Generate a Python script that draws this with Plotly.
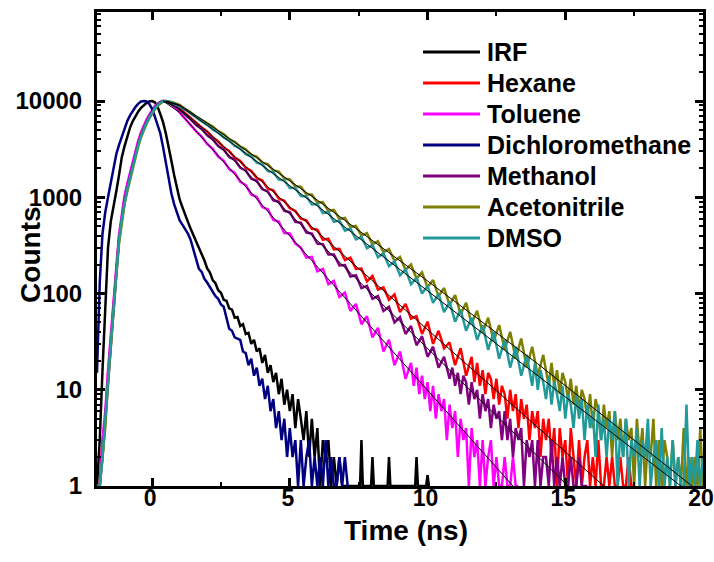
import plotly.graph_objects as go

def grid(start, step, n):
    return [round(start + step * i, 3) for i in range(n)]

# ---------------- data (counts) ----------------
# IRF: -2.0..1.0 ns step 0.1, then 1.1.. step 0.1, then isolated spikes
irf_rise = [1, 3, 16, 80, 300, 560, 850, 1150, 1700, 2600, 3400, 4300, 5300, 6200, 7000,
            7800, 8500, 9100, 9600, 9900, 10000, 9700, 8700, 7300, 6000, 4600, 3400, 2400,
            1700, 1250, 950]
irf_tail = [790, 650, 555, 470, 405, 340, 300, 250, 220, 182, 165, 138, 128, 108, 102, 86, 84,
            70, 68, 56, 57, 46, 48, 38, 39, 30, 33, 25, 27, 19, 23, 15, 18, 12, 15, 9, 13, 7,
            10, 6, 9, 4, 8, 5, 3, 6, 2, 5, 2, 4, 1, 3, 2, 3, 1, 2, 1, 2, 1, 1]
irf_spike_t = [7.5, 7.55, 7.6, 7.65, 7.95, 8.0, 8.05, 8.55, 8.6, 8.65, 9.55, 9.6, 9.65,
               9.95, 10.0, 10.05]
irf_spike_y = [1, 1, 3, 1, 1, 2, 1, 1, 2, 1, 1, 2, 1, 1, 1.3, 1]

# Dichloromethane
dcm_rise = [15, 130, 420, 700, 1000, 1450, 2100, 2800, 3500, 4300, 5300, 6200, 7100, 7900,
            8700, 9400, 9900, 10000, 9900, 9300, 8300, 6900, 5700, 4600, 3300, 2300, 1500,
            1100, 850, 680, 575]
dcm_tail = [520, 470, 420, 360, 290, 228, 180, 168, 142, 130, 116, 106, 94, 88, 77, 73, 54,
            43, 41, 35, 34, 33, 25, 24, 18, 21, 14, 17, 11, 13, 8, 11, 6, 8, 4, 6, 3, 5, 2, 4,
            2, 3, 1, 3, 1, 2, 3, 1, 2, 1, 2, 1, 3, 1, 2, 1, 1, 2, 1, 2, 1]

# Hexane
hex_rise = [1, 1, 3, 5, 14, 30, 70, 170, 380, 640, 970, 1300, 1700, 2250, 3000, 3750, 4600,
            5450, 6250, 7050, 7850, 8650, 9300, 9750, 10000, 9950, 9800, 9500, 9150, 8800, 8400]
hex_mid = [7480, 6640, 6010, 5310, 4830, 4210, 3810, 3300, 3020, 2590, 2380, 2030, 1880, 1590,
           1490, 1230, 1180, 970, 920, 770, 720, 600, 575, 470, 462, 362, 372, 288, 292, 222,
           236, 180, 182, 134, 152, 110, 116, 86, 98, 64, 78, 55, 58, 38, 51, 30, 41, 27, 31,
           18, 27, 14, 22]
hex_tail = [12, 19, 11, 16, 9, 15, 13, 8, 13, 7, 11, 9, 5, 10, 6, 9, 4, 8, 5, 7, 3, 6, 4, 6,
            2, 5, 3, 5, 2, 4, 1, 4, 2, 3, 1, 4, 2, 1, 3, 1, 2, 3, 1, 2, 1, 3, 1, 1, 2, 1, 2, 1,
            1, 2, 1, 1, 2, 1, 1]

# Toluene
tol_rise = [1, 1, 3, 6, 16, 34, 78, 185, 410, 690, 1040, 1390, 1800, 2380, 3150, 3900, 4750,
            5600, 6400, 7200, 8000, 8800, 9400, 9800, 10000, 9900, 9650, 9250, 8750, 8200, 7600]
tol_mid = [6520, 5700, 4830, 4260, 3580, 3180, 2650, 2390, 1960, 1790, 1450, 1340, 1070, 1010,
           790, 750, 580, 560, 425, 420, 330, 300, 236, 240, 170, 180, 125, 135, 92, 102, 66,
           78, 48, 58, 35, 44, 25, 33, 18, 25, 13, 19]
tol_tail = [11, 17, 9, 14, 8, 12, 6, 11, 5, 9, 6, 8, 3, 7, 4, 6, 2, 5, 3, 4, 1, 4, 2, 3, 1, 3,
            1, 2, 3, 1, 2, 1, 1, 2, 1, 1, 2, 1, 1]

# Methanol
met_rise = [1, 1, 2, 5, 13, 28, 66, 160, 360, 610, 920, 1250, 1640, 2180, 2920, 3650, 4480,
            5320, 6120, 6920, 7720, 8520, 9200, 9700, 9980, 10000, 9800, 9450, 9050, 8600, 8150]
met_mid = [7180, 6450, 5620, 5120, 4400, 4010, 3400, 3130, 2620, 2450, 2020, 1900, 1560, 1480,
           1210, 1150, 930, 900, 720, 700, 555, 545, 430, 420, 330, 325, 255, 255, 196, 198,
           150, 155, 114, 120, 88, 94, 66, 73, 50, 57, 38, 46, 29, 36, 22, 28, 17, 22, 13]
met_tail = [17, 11, 15, 9, 14, 12, 7, 12, 8, 10, 5, 9, 6, 8, 4, 7, 5, 6, 3, 6, 3, 5, 2, 4, 3,
            4, 1, 3, 2, 3, 1, 3, 1, 2, 2, 1, 3, 1, 2, 1, 2, 1, 1, 2, 1, 1, 2, 1, 1, 1]

# Acetonitrile
acn_rise = [1, 1, 2, 4, 12, 26, 60, 150, 330, 560, 850, 1150, 1500, 2000, 2700, 3400, 4200,
            5000, 5800, 6600, 7400, 8200, 8900, 9500, 9900, 10000, 9950, 9800, 9600, 9350, 9100]
acn_mid = [8280, 7650, 6880, 6360, 5850, 5420, 4870, 4530, 4010, 3780, 3350, 3150, 2760, 2640,
           2290, 2210, 1900, 1850, 1570, 1530, 1300, 1290, 1070, 1070, 880, 890, 720, 740, 595,
           610, 490, 505, 400, 425, 325, 350, 268, 290, 218, 240, 176, 200, 143, 166, 116, 138,
           94, 114, 76, 96, 61, 80, 49, 66, 39, 56, 32, 47, 26, 40, 21, 34, 17, 28, 14, 23, 11]
acn_tail = [19, 11, 16, 9, 15, 12, 8, 13, 7, 11, 6, 10, 8, 5, 9, 4, 8, 6, 3, 7, 4, 6, 2, 6, 3,
            5, 2, 5, 3, 4, 1, 5, 2, 4, 1, 3, 2, 5, 1, 3, 1, 3, 2, 1, 3, 1, 2, 1, 4, 1, 2, 1, 2,
            1, 4, 1]

# DMSO
dmso_rise = [1, 1, 2, 5, 14, 30, 68, 165, 360, 600, 900, 1220, 1580, 2100, 2820, 3530, 4350,
             5150, 5950, 6750, 7550, 8350, 9000, 9600, 9950, 10000, 9900, 9700, 9450, 9150, 8850]
dmso_mid = [8150, 7380, 6800, 6120, 5660, 5070, 4680, 4170, 3870, 3420, 3210, 2800, 2650, 2290,
            2200, 1870, 1820, 1530, 1500, 1250, 1250, 1030, 1020, 840, 850, 685, 700, 555, 575,
            450, 472, 365, 388, 295, 320, 238, 262, 192, 216, 155, 178, 125, 146, 100, 120, 80,
            99, 64, 82, 51, 68, 41, 56, 33, 47, 26, 40, 21, 33, 17, 28, 14, 23, 11]
dmso_tail = [19, 10, 16, 12, 8, 14, 7, 12, 9, 6, 11, 5, 9, 7, 4, 9, 5, 8, 3, 7, 4, 6, 2, 7, 3,
             5, 2, 5, 3, 6, 1, 4, 2, 5, 1, 3, 2, 4, 1, 3, 2, 5, 1, 2, 3, 1, 4, 1, 2, 1, 3, 1, 2,
             1, 1, 7, 1, 2, 1, 3, 1, 2]

# exponential fits (thin black lines)
fit_hex_t, fit_hex_y = [0.4, 1.0, 2.0, 6.0, 16.4], [10000, 8300, 4790, 437, 1]
fit_tol_t, fit_tol_y = [0.4, 1.0, 2.0, 13.1], [10000, 7590, 3630, 1]
fit_met_t, fit_met_y = [0.5, 1.0, 2.0, 6.0, 15.1], [10000, 8130, 4470, 355, 1]
fit_acn_t, fit_acn_y = [0.5, 1.0, 2.0, 4.0, 6.0, 10.0, 14.0, 19.6], [10000, 9100, 5900, 2340, 933, 135, 18.6, 1]
fit_dmso_t, fit_dmso_y = [0.5, 1.0, 2.0, 4.0, 6.0, 19.2], [10000, 8900, 5620, 2140, 813, 1]

names = ["IRF", "Hexane", "Toluene", "Dichloromethane", "Methanol", "Acetonitrile", "DMSO"]
colors = ["#000000", "#FF0000", "#FF00FF", "#000080", "#800080", "#808000", "#229A9A"]

x_ticks = [0, 5, 10, 15, 20]
y_ticks = [1, 10, 100, 1000, 10000]
y_ticktext = ["1", "10", "100", "1000", "10000"]


def three_part(rise, mid, tail):
    t = grid(-2.0, 0.1, len(rise)) + grid(1.2, 0.2, len(mid))
    last = 1.2 + 0.2 * (len(mid) - 1)
    t += grid(last + 0.1, 0.1, len(tail))
    return t, rise + mid + tail


series = {}
series["IRF"] = (grid(-2.0, 0.1, len(irf_rise)) + grid(1.1, 0.1, len(irf_tail)) + irf_spike_t,
                 irf_rise + irf_tail + irf_spike_y)
series["Hexane"] = three_part(hex_rise, hex_mid, hex_tail)
series["Toluene"] = three_part(tol_rise, tol_mid, tol_tail)
series["Dichloromethane"] = (grid(-2.0, 0.1, len(dcm_rise)) + grid(1.1, 0.1, len(dcm_tail)),
                             dcm_rise + dcm_tail)
series["Methanol"] = three_part(met_rise, met_mid, met_tail)
series["Acetonitrile"] = three_part(acn_rise, acn_mid, acn_tail)
series["DMSO"] = three_part(dmso_rise, dmso_mid, dmso_tail)

FONT = "Liberation Sans, Arial, Helvetica, sans-serif"

fig = go.Figure()
for name, col in zip(names, colors):
    t, y = series[name]
    fig.add_trace(go.Scatter(x=t, y=y, mode="lines", name=name,
                             line=dict(color=col, width=2.5), showlegend=False))

for ft, fy in [(fit_hex_t, fit_hex_y), (fit_tol_t, fit_tol_y), (fit_met_t, fit_met_y),
               (fit_acn_t, fit_acn_y), (fit_dmso_t, fit_dmso_y)]:
    fig.add_trace(go.Scatter(x=ft, y=fy, mode="lines", line=dict(color="black", width=1),
                             showlegend=False, hoverinfo="skip"))

# manual legend (long line samples like the original)
annotations = []
shapes = []
for i, (name, col) in enumerate(zip(names, colors)):
    yy = 0.9156 - i * 0.0654
    shapes.append(dict(type="line", xref="paper", yref="paper", x0=0.538, x1=0.632,
                       y0=yy, y1=yy, line=dict(color=col, width=3)))
    annotations.append(dict(xref="paper", yref="paper", x=0.641, y=yy, text=name,
                            showarrow=False, xanchor="left", yanchor="middle",
                            font=dict(family=FONT, size=25, color="black", weight="bold")))

annotations.append(dict(xref="paper", yref="paper", x=0.51, y=-0.093, text="Time (ns)",
                        showarrow=False, xanchor="center", yanchor="middle",
                        font=dict(family=FONT, size=28, color="black", weight="bold")))
annotations.append(dict(xref="paper", yref="paper", x=-0.111, y=0.487, text="Counts",
                        textangle=-90, showarrow=False, xanchor="center", yanchor="middle",
                        font=dict(family=FONT, size=28, color="black", weight="bold")))

fig.update_layout(
    width=714, height=562,
    margin=dict(l=97, r=11, t=12, b=76, autoexpand=False),
    paper_bgcolor="white", plot_bgcolor="white",
    shapes=shapes, annotations=annotations,
    showlegend=False,
)

fig.update_xaxes(
    range=[-2, 20], tickvals=x_ticks, ticks="inside", ticklen=8, tickwidth=3,
    tickcolor="black", showline=True, linewidth=3, linecolor="black", mirror="allticks",
    showgrid=False, zeroline=False, ticklabelstandoff=-11, automargin=False,
    ticklabeloverflow="allow", ticklabelshift=-2,
    tickfont=dict(family=FONT, size=23, color="black", weight="bold"),
    minor=dict(dtick=2.5, ticks="inside", ticklen=4, tickwidth=2, tickcolor="black",
               showgrid=False),
)
fig.update_yaxes(
    type="log", range=[0, 4.925], tickvals=y_ticks, ticktext=y_ticktext, ticks="inside",
    ticklen=8, tickwidth=3, tickcolor="black", showline=True, linewidth=3, linecolor="black",
    mirror="allticks", showgrid=False, zeroline=False, ticklabelstandoff=7, automargin=False,
    ticklabeloverflow="allow",
    tickfont=dict(family=FONT, size=24, color="black", weight="bold"),
    minor=dict(dtick="D1", ticks="inside", ticklen=4, tickwidth=1.5, tickcolor="black",
               showgrid=False),
)

fig.write_html("out.html")
